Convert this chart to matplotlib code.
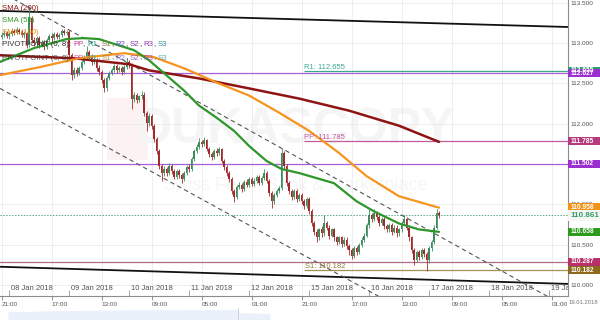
import matplotlib
matplotlib.use("Agg")
import matplotlib.pyplot as plt
import matplotlib.transforms as mtransforms
from matplotlib.patches import Rectangle
import numpy as np

plt.rcParams["font.family"] = ["Liberation Sans", "DejaVu Sans"]

# hourly candles, x = trading hours counted from 08 Jan 2018 00:00 (weekend cut out)
hours = np.arange(-3, 173)
opens = [113.075, 113.100, 113.125, 113.088, 113.112, 113.150, 113.125, 113.162, 113.138, 113.100,
         113.125, 112.975, 113.312, 113.038, 113.000, 113.062, 112.975, 113.012, 112.950, 113.038,
         113.088, 113.062, 113.112, 113.075, 113.100, 113.150, 113.125, 113.138, 112.850, 112.600,
         112.662, 112.625, 112.688, 112.762, 112.812, 112.888, 112.838, 112.762, 112.788, 112.688,
         112.638, 112.538, 112.438, 112.562, 112.625, 112.662, 112.712, 112.662, 112.688, 112.638,
         112.700, 112.762, 112.725, 112.312, 112.350, 112.300, 112.338, 112.362, 112.138, 112.012,
         112.100, 111.975, 111.812, 111.662, 111.475, 111.388, 111.438, 111.388, 111.475, 111.412,
         111.338, 111.412, 111.362, 111.312, 111.388, 111.462, 111.438, 111.562, 111.662, 111.712,
         111.775, 111.750, 111.800, 111.688, 111.625, 111.588, 111.662, 111.638, 111.688, 111.538,
         111.462, 111.388, 111.312, 111.162, 111.088, 111.212, 111.238, 111.188, 111.275, 111.238,
         111.312, 111.250, 111.288, 111.338, 111.262, 111.325, 111.388, 111.288, 111.138, 111.038,
         111.112, 111.162, 111.200, 111.638, 111.475, 111.262, 111.162, 111.088, 111.162, 111.062,
         111.112, 111.038, 110.975, 111.062, 110.912, 110.762, 110.662, 110.588, 110.688, 110.638,
         110.762, 110.712, 110.612, 110.688, 110.588, 110.538, 110.588, 110.512, 110.562, 110.488,
         110.438, 110.362, 110.462, 110.412, 110.500, 110.562, 110.612, 110.738, 110.862, 110.812,
         110.888, 110.838, 110.762, 110.812, 110.725, 110.688, 110.738, 110.662, 110.712, 110.638,
         110.688, 110.762, 110.812, 110.712, 110.588, 110.438, 110.312, 110.412, 110.350, 110.438,
         110.388, 110.312, 110.462, 110.538, 110.712, 110.888]
closes = [113.100, 113.125, 113.088, 113.112, 113.150, 113.125, 113.162, 113.138, 113.100, 113.125,
          112.975, 113.312, 113.038, 113.000, 113.062, 112.975, 113.012, 112.950, 113.038, 113.088,
          113.062, 113.112, 113.075, 113.100, 113.150, 113.125, 113.138, 112.850, 112.600, 112.662,
          112.625, 112.688, 112.762, 112.812, 112.888, 112.838, 112.762, 112.788, 112.688, 112.638,
          112.538, 112.438, 112.562, 112.625, 112.662, 112.712, 112.662, 112.688, 112.638, 112.700,
          112.762, 112.725, 112.312, 112.350, 112.300, 112.338, 112.362, 112.138, 112.012, 112.100,
          111.975, 111.812, 111.662, 111.475, 111.388, 111.438, 111.388, 111.475, 111.412, 111.338,
          111.412, 111.362, 111.312, 111.388, 111.462, 111.438, 111.562, 111.662, 111.712, 111.775,
          111.750, 111.800, 111.688, 111.625, 111.588, 111.662, 111.638, 111.688, 111.538, 111.462,
          111.388, 111.312, 111.162, 111.088, 111.212, 111.238, 111.188, 111.275, 111.238, 111.312,
          111.250, 111.288, 111.338, 111.262, 111.325, 111.388, 111.288, 111.138, 111.038, 111.112,
          111.162, 111.200, 111.638, 111.475, 111.262, 111.162, 111.088, 111.162, 111.062, 111.112,
          111.038, 110.975, 111.062, 110.912, 110.762, 110.662, 110.588, 110.688, 110.638, 110.762,
          110.712, 110.612, 110.688, 110.588, 110.538, 110.588, 110.512, 110.562, 110.488, 110.438,
          110.362, 110.462, 110.412, 110.500, 110.562, 110.612, 110.738, 110.862, 110.812, 110.888,
          110.838, 110.762, 110.812, 110.725, 110.688, 110.738, 110.662, 110.712, 110.638, 110.688,
          110.762, 110.812, 110.712, 110.588, 110.438, 110.312, 110.412, 110.350, 110.438, 110.388,
          110.312, 110.462, 110.538, 110.712, 110.888, 110.861]
highs = [113.138, 113.162, 113.150, 113.138, 113.188, 113.175, 113.200, 113.188, 113.162, 113.150,
         113.138, 113.462, 113.338, 113.075, 113.088, 113.088, 113.038, 113.038, 113.062, 113.112,
         113.125, 113.138, 113.138, 113.125, 113.175, 113.175, 113.162, 113.162, 112.875, 112.700,
         112.700, 112.712, 112.788, 112.850, 112.962, 112.912, 112.862, 112.825, 112.812, 112.725,
         112.662, 112.562, 112.588, 112.650, 112.688, 112.738, 112.738, 112.712, 112.712, 112.725,
         112.812, 112.788, 112.750, 112.388, 112.375, 112.362, 112.412, 112.388, 112.162, 112.138,
         112.125, 112.000, 111.838, 111.688, 111.500, 111.475, 111.462, 111.512, 111.500, 111.438,
         111.438, 111.438, 111.388, 111.412, 111.488, 111.500, 111.588, 111.688, 111.750, 111.825,
         111.800, 111.838, 111.812, 111.712, 111.650, 111.688, 111.700, 111.712, 111.700, 111.562,
         111.488, 111.412, 111.338, 111.188, 111.238, 111.275, 111.262, 111.300, 111.312, 111.338,
         111.338, 111.325, 111.362, 111.362, 111.350, 111.438, 111.412, 111.312, 111.162, 111.138,
         111.188, 111.225, 111.700, 111.662, 111.500, 111.288, 111.188, 111.188, 111.188, 111.138,
         111.138, 111.062, 111.088, 111.088, 110.938, 110.788, 110.688, 110.712, 110.725, 110.862,
         110.788, 110.738, 110.712, 110.712, 110.612, 110.612, 110.612, 110.588, 110.588, 110.512,
         110.462, 110.488, 110.488, 110.525, 110.588, 110.638, 110.762, 110.938, 110.888, 110.938,
         110.912, 110.862, 110.838, 110.838, 110.750, 110.762, 110.762, 110.738, 110.738, 110.712,
         110.788, 110.862, 110.838, 110.738, 110.612, 110.462, 110.438, 110.438, 110.462, 110.462,
         110.412, 110.488, 110.562, 110.738, 110.938, 110.912]
lows = [113.050, 113.075, 113.062, 113.050, 113.088, 113.100, 113.112, 113.112, 113.075, 113.062,
        112.938, 112.950, 113.000, 112.962, 112.975, 112.938, 112.950, 112.912, 112.925, 113.012,
        113.025, 113.038, 113.050, 113.050, 113.075, 113.100, 113.100, 112.812, 112.538, 112.562,
        112.588, 112.600, 112.662, 112.738, 112.788, 112.800, 112.725, 112.738, 112.650, 112.600,
        112.500, 112.388, 112.412, 112.538, 112.600, 112.638, 112.625, 112.638, 112.600, 112.612,
        112.675, 112.688, 112.188, 112.275, 112.262, 112.275, 112.312, 112.100, 111.912, 111.975,
        111.938, 111.775, 111.625, 111.438, 111.288, 111.350, 111.350, 111.362, 111.375, 111.312,
        111.312, 111.325, 111.262, 111.288, 111.362, 111.400, 111.412, 111.538, 111.638, 111.688,
        111.712, 111.725, 111.662, 111.588, 111.550, 111.562, 111.600, 111.612, 111.512, 111.425,
        111.350, 111.275, 111.125, 111.025, 111.062, 111.188, 111.150, 111.162, 111.212, 111.212,
        111.225, 111.225, 111.262, 111.238, 111.238, 111.300, 111.262, 111.100, 110.950, 111.000,
        111.088, 111.138, 111.175, 111.438, 111.225, 111.125, 111.050, 111.062, 111.025, 111.038,
        111.000, 110.938, 110.950, 110.875, 110.725, 110.625, 110.538, 110.562, 110.600, 110.612,
        110.675, 110.575, 110.588, 110.550, 110.500, 110.512, 110.475, 110.488, 110.450, 110.375,
        110.325, 110.338, 110.375, 110.388, 110.475, 110.538, 110.588, 110.712, 110.775, 110.788,
        110.800, 110.725, 110.738, 110.688, 110.650, 110.662, 110.625, 110.638, 110.600, 110.612,
        110.662, 110.738, 110.675, 110.550, 110.400, 110.250, 110.288, 110.312, 110.325, 110.350,
        110.175, 110.275, 110.425, 110.512, 110.688, 110.825]

# moving averages, read at a few points
sma200_h = [-4, 26, 48, 56, 76, 96, 116, 136, 156, 172]
sma200 = [112.850, 112.812, 112.738, 112.662, 112.562, 112.438, 112.312, 112.162, 111.975, 111.775]
sma100_h = [-4, 12, 28, 46, 58, 70, 83, 96, 108, 120, 132, 143, 156, 172]
sma100 = [112.600, 112.700, 112.812, 112.875, 112.825, 112.688, 112.512, 112.350, 112.138,
          111.912, 111.638, 111.350, 111.100, 110.958]
sma55_h = [-4, 10, 23, 30, 36, 50, 56, 63, 70, 76, 83, 90, 96, 103, 109, 116, 130, 139, 146,
           156, 164, 172]
sma55 = [112.762, 112.938, 113.050, 113.062, 113.050, 112.912, 112.788, 112.600, 112.412, 112.225,
         112.075, 111.912, 111.725, 111.538, 111.438, 111.388, 111.262, 111.038, 110.912, 110.762,
         110.688, 110.658]

# trend lines (value at left and right edge)
trend_h = [-3.6, 223.6]
top_line = [113.400, 113.200]
bottom_line = [110.225, 110.012]
upper_dash = [113.641, 109.715]
lower_dash = [112.438, 108.568]

pivot_start = 118
r1, pp, s1 = 112.655, 111.785, 110.182
level_a, level_b, level_c = 112.627, 111.502, 110.287
last_price = 110.861

price_boxes = [(112.655, "112.655", "#2e9e6e"), (112.627, "112.627", "#9b30d0"),
               (111.785, "111.785", "#b83a7e"), (111.502, "111.502", "#9b30d0"),
               (110.958, "110.958", "#f39214"), (110.658, "110.658", "#2e9a1e"),
               (110.287, "110.287", "#b8306a"), (110.182, "110.182", "#8c6a1c")]

yticks = [110.0, 110.5, 111.0, 111.5, 112.0, 112.5, 113.0, 113.5]
time_ticks = [-3, 17, 37, 57, 77, 97, 117, 137, 157, 177, 197, 217]
time_labels = ["21:00", "17:00", "13:00", "09:00", "05:00", "01:00",
               "21:00", "17:00", "13:00", "09:00", "05:00", "01:00"]
date_ticks = [0, 24, 48, 72, 96, 120, 144, 168, 192, 216]
date_labels = ["08 Jan 2018", "09 Jan 2018", "10 Jan 2018", "11 Jan 2018", "12 Jan 2018",
               "15 Jan 2018", "16 Jan 2018", "17 Jan 2018", "18 Jan 2018", "19 Jan 2018"]

nav_x = [0, 20, 45, 70, 95, 120, 150, 180, 210, 229, 231, 245, 262]
nav_top = [0.70, 0.72, 0.78, 0.80, 0.82, 0.84, 0.85, 0.86, 0.86, 0.86, 0.62, 0.58, 0.55]

W, H = 600, 320
fig = plt.figure(figsize=(6, 3.2), dpi=100)
ax = fig.add_axes([0, 24 / H, 568 / W, 296 / H])
ax.set_xlim(-3.6, 223.6)
ax.set_ylim(109.862, 113.535)

# watermark
ax.add_patch(Rectangle((107 / 568, 0.46), 41 / 568, 0.21, transform=ax.transAxes,
                       color="#fdf2f2", zorder=0, lw=0))
ax.text(0.52, 0.56, "DUKASCOPY", transform=ax.transAxes, fontsize=36, fontweight="bold",
        color="#f5f5f5", ha="center", va="center", zorder=0)
ax.text(0.52, 0.375, "Swiss Forex Bank & Marketplace", transform=ax.transAxes, fontsize=13,
        color="#f6f6f6", ha="center", va="center", zorder=0)

# grid
ax.set_yticks(yticks)
ax.set_yticklabels(["%.3f" % v for v in yticks])
ax.set_xticks(time_ticks)
ax.set_xticklabels(time_labels, ha="left")
ax.set_xticks(date_ticks, minor=True)
ax.grid(True, which="major", color="#ebebeb", lw=0.6, zorder=0)
ax.set_axisbelow(True)
ax.yaxis.tick_right()
ax.tick_params(axis="y", length=0, pad=2, labelsize=4.6, labelcolor="#555555")
ax.tick_params(axis="x", which="major", length=3, pad=1.5, labelsize=4.6, labelcolor="#555555",
               color="#999999", direction="out")
ax.tick_params(axis="x", which="minor", length=4, direction="in", color="#999999")
for side in ("top", "left"):
    ax.spines[side].set_visible(False)
for side in ("right", "bottom"):
    ax.spines[side].set_color("#8c8c8c")
    ax.spines[side].set_linewidth(0.8)

for t, lab in zip(date_ticks, date_labels):
    ax.text(t + 0.7, 0.024, lab, transform=ax.get_xaxis_transform(), fontsize=5.5,
            color="#555555", va="center", ha="left", clip_on=True)
fig.text(568.5 / W, 1 - 303 / H, "19.01.2018", fontsize=4.2, color="#777777", va="center")

# horizontal levels
ax.axhline(level_a, color="#a85fd8", lw=0.9, zorder=1)
ax.axhline(level_b, color="#a85fd8", lw=0.9, zorder=1)
ax.axhline(level_c, color="#b26a8c", lw=0.9, zorder=1)
ax.axhline(last_price, color="#5aa783", lw=0.7, ls=(0, (1.5, 1.5)), zorder=1)
ax.hlines(r1, pivot_start, 223.6, color="#3aaa8a", lw=0.9, zorder=1)
ax.hlines(pp, pivot_start, 223.6, color="#c25a9c", lw=0.9, zorder=1)
ax.hlines(s1, pivot_start, 223.6, color="#a39255", lw=0.9, zorder=1)
ax.text(pivot_start, r1, "R1: 112.655", fontsize=5.5, color="#3aaa8a", va="bottom", zorder=5)
ax.text(pivot_start, pp, "PP: 111.785", fontsize=5.5, color="#c25a9c", va="bottom", zorder=5)
ax.text(pivot_start + 0.5, s1, "S1: 110.182", fontsize=5.5, color="#8f7d3a", va="bottom", zorder=5)

# trend lines
ax.plot(trend_h, top_line, color="#111111", lw=1.3, zorder=2)
ax.plot(trend_h, bottom_line, color="#111111", lw=1.3, zorder=2)
ax.plot(trend_h, upper_dash, color="#555555", lw=0.8, ls=(0, (4, 3)), zorder=2)
ax.plot(trend_h, lower_dash, color="#555555", lw=0.8, ls=(0, (4, 3)), zorder=2)

# candles
o = np.array(opens)
c = np.array(closes)
up = c >= o
cols = np.where(up, "#3c8d5e", "#a32a2a")
ax.vlines(hours, lows, highs, colors=cols, lw=0.6, zorder=3)
ax.bar(hours, np.maximum(np.abs(c - o), 0.006), bottom=np.minimum(o, c), width=0.75,
       color=cols, lw=0, zorder=3)

# moving averages
ax.plot(sma200_h, sma200, color="#8e1414", lw=1.8, zorder=4, solid_capstyle="round")
ax.plot(sma100_h, sma100, color="#f7941d", lw=1.6, zorder=4, solid_capstyle="round")
ax.plot(sma55_h, sma55, color="#2e962a", lw=1.6, zorder=4, solid_capstyle="round")

# legend texts
def line_of_parts(y_px, parts, alpha=1.0):
    txt = ax.text(2 / 568, 1 - y_px / 296, parts[0][0], color=parts[0][1], fontsize=5.6,
                  transform=ax.transAxes, va="center", zorder=6, alpha=alpha)
    for s, col in parts[1:]:
        txt = ax.annotate(s, xy=(1, 0), xycoords=txt, va="bottom", color=col, fontsize=5.6,
                          zorder=6, alpha=alpha)

line_of_parts(8, [("SMA (200)", "#8e1414")])
line_of_parts(21, [("SMA (55)", "#2e962a")])
line_of_parts(33, [("SMA (100)", "#f08a10")])
piv = [("PIVOTPOINT (0, 8): ", "#333333"), ("PP", "#c2409a"), (", ", "#333333"),
       ("R1", "#2aa08a"), (", ", "#333333"), ("S1", "#8f7d3a"), (", ", "#333333"),
       ("R2", "#6a5acd"), (", ", "#333333"), ("S2", "#7e3fa8"), (", ", "#333333"),
       ("R3", "#9b3fb5"), (", ", "#333333"), ("S3", "#3a9aa8")]
line_of_parts(45, piv)
line_of_parts(58, piv, alpha=0.8)

# price boxes on the right
bt = mtransforms.blended_transform_factory(fig.transFigure, ax.transData)
box_h = 8.5 / 80.6
for v, lab, col in price_boxes:
    ax.add_patch(Rectangle((568 / W, v - box_h / 2), 32 / W, box_h, transform=bt,
                           color=col, lw=0, clip_on=False, zorder=7))
    ax.text(571 / W, v, lab, transform=bt, fontsize=4.8, fontweight="bold", color="white",
            va="center", ha="left", clip_on=False, zorder=8)
ax.add_patch(Rectangle((568 / W, last_price - 5.5 / 80.6), 32 / W, 11 / 80.6, transform=bt,
                       color="#f3f7f4", lw=0, clip_on=False, zorder=7))
ax.text(570 / W, last_price, "110.861", transform=bt, fontsize=5.8, fontweight="bold",
        color="#3a9a6a", va="center", ha="left", clip_on=False, zorder=8)

# navigator strip at the bottom
nav = fig.add_axes([8 / W, 0, 262 / W, 12 / H])
nav.fill_between(nav_x, 0, nav_top, color="#eaf1fa", lw=0)
nav.axvline(230, color="#cccccc", lw=0.6)
nav.set_xlim(0, 262)
nav.set_ylim(0, 1)
nav.axis("off")

fig.savefig("out.png", dpi=100)
